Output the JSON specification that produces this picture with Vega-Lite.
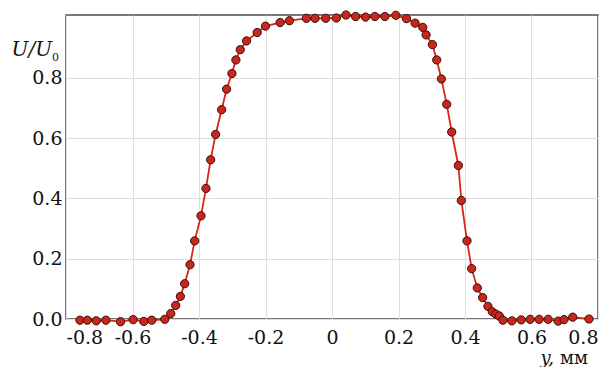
{
  "$schema": "https://vega.github.io/schema/vega-lite/v6.json",
  "width": 532,
  "height": 304,
  "autosize": "none",
  "padding": {"left": 66, "top": 15, "right": 14, "bottom": 48},
  "background": "white",
  "config": {
    "font": "DejaVu Serif",
    "text": {"font": "DejaVu Serif"},
    "view": {"stroke": "#4d4d4d", "strokeWidth": 1.5},
    "axis": {
      "grid": true,
      "gridColor": "#dedede",
      "gridWidth": 1,
      "domain": false,
      "ticks": false,
      "labelFont": "DejaVu Serif",
      "labelFontSize": 19,
      "labelColor": "#111111",
      "title": null
    }
  },
  "datasets": {
    "profile": [
      {"y": -0.758, "u": -0.004},
      {"y": -0.736, "u": -0.004},
      {"y": -0.709, "u": -0.006},
      {"y": -0.680, "u": -0.004},
      {"y": -0.636, "u": -0.009},
      {"y": -0.598, "u": -0.002},
      {"y": -0.566, "u": -0.008},
      {"y": -0.542, "u": -0.004},
      {"y": -0.503, "u": -0.001},
      {"y": -0.485, "u": 0.018},
      {"y": -0.470, "u": 0.045},
      {"y": -0.456, "u": 0.075},
      {"y": -0.443, "u": 0.117},
      {"y": -0.427, "u": 0.180},
      {"y": -0.413, "u": 0.259},
      {"y": -0.394, "u": 0.342},
      {"y": -0.379, "u": 0.433},
      {"y": -0.365, "u": 0.528},
      {"y": -0.350, "u": 0.612},
      {"y": -0.332, "u": 0.694},
      {"y": -0.317, "u": 0.762},
      {"y": -0.301, "u": 0.814},
      {"y": -0.289, "u": 0.859},
      {"y": -0.276, "u": 0.893},
      {"y": -0.257, "u": 0.922},
      {"y": -0.225, "u": 0.950},
      {"y": -0.200, "u": 0.971},
      {"y": -0.156, "u": 0.983},
      {"y": -0.128, "u": 0.989},
      {"y": -0.077, "u": 0.997},
      {"y": -0.051, "u": 0.997},
      {"y": -0.019, "u": 0.997},
      {"y": 0.013, "u": 0.998},
      {"y": 0.042, "u": 1.008},
      {"y": 0.071, "u": 1.003},
      {"y": 0.101, "u": 1.001},
      {"y": 0.129, "u": 1.003},
      {"y": 0.159, "u": 1.003},
      {"y": 0.192, "u": 1.007},
      {"y": 0.224, "u": 0.996},
      {"y": 0.250, "u": 0.981},
      {"y": 0.273, "u": 0.967},
      {"y": 0.283, "u": 0.942},
      {"y": 0.302, "u": 0.910},
      {"y": 0.315, "u": 0.859},
      {"y": 0.329, "u": 0.796},
      {"y": 0.345, "u": 0.712},
      {"y": 0.360, "u": 0.620},
      {"y": 0.380, "u": 0.509},
      {"y": 0.389, "u": 0.393},
      {"y": 0.406, "u": 0.259},
      {"y": 0.420, "u": 0.167},
      {"y": 0.437, "u": 0.103},
      {"y": 0.453, "u": 0.071},
      {"y": 0.469, "u": 0.042},
      {"y": 0.482, "u": 0.024},
      {"y": 0.493, "u": 0.016},
      {"y": 0.503, "u": 0.010},
      {"y": 0.514, "u": -0.004},
      {"y": 0.541, "u": -0.006},
      {"y": 0.569, "u": -0.003},
      {"y": 0.596, "u": -0.001},
      {"y": 0.623, "u": -0.001},
      {"y": 0.650, "u": -0.001},
      {"y": 0.680, "u": -0.007},
      {"y": 0.698, "u": -0.002},
      {"y": 0.724, "u": 0.006},
      {"y": 0.773, "u": 0.000}
    ],
    "labels": [
      {"t": "U/U", "px": -0.8, "pu": 0.873, "kind": "ytitle"},
      {"t": "0", "px": -0.8, "pu": 0.873, "kind": "ysub"},
      {"t": "мм", "px": 0.8, "pu": 0.0, "kind": "xunit"},
      {"t": "y,", "px": 0.8, "pu": 0.0, "kind": "xvar"}
    ]
  },
  "layer": [
    {
      "data": {"name": "profile"},
      "mark": {"type": "line", "color": "#d8261a", "strokeWidth": 1.8, "clip": false},
      "encoding": {
        "x": {
          "field": "y",
          "type": "quantitative",
          "scale": {"domain": [-0.8, 0.8], "nice": false},
          "axis": {
            "values": [-0.8, -0.6, -0.4, -0.2, 0, 0.2, 0.4, 0.6, 0.8],
            "labelPadding": 9,
            "labelExpr": "datum.value == 0 ? '0' : replace(format(datum.value, '.1f'), '\u2212', '-')"
          }
        },
        "y": {
          "field": "u",
          "type": "quantitative",
          "scale": {"domain": [0, 1.008], "nice": false, "zero": false},
          "axis": {"values": [0, 0.2, 0.4, 0.6, 0.8], "format": ".1f", "labelPadding": 4}
        }
      }
    },
    {
      "data": {"name": "profile"},
      "mark": {"type": "point", "shape": "circle", "filled": true, "size": 68, "fill": "#c8281b", "stroke": "#3d0b06", "strokeWidth": 1, "opacity": 1, "clip": false},
      "encoding": {
        "x": {"field": "y", "type": "quantitative"},
        "y": {"field": "u", "type": "quantitative"}
      }
    },
    {
      "data": {"name": "labels"},
      "transform": [{"filter": "datum.kind == 'ytitle'"}],
      "mark": {"type": "text", "fontStyle": "italic", "fontSize": 20, "align": "right", "baseline": "alphabetic", "dx": -14, "color": "#111111"},
      "encoding": {
        "x": {"field": "px", "type": "quantitative"},
        "y": {"field": "pu", "type": "quantitative"},
        "text": {"field": "t", "type": "nominal"}
      }
    },
    {
      "data": {"name": "labels"},
      "transform": [{"filter": "datum.kind == 'ysub'"}],
      "mark": {"type": "text", "fontSize": 11, "align": "right", "baseline": "alphabetic", "dx": -7, "dy": 5, "color": "#111111"},
      "encoding": {
        "x": {"field": "px", "type": "quantitative"},
        "y": {"field": "pu", "type": "quantitative"},
        "text": {"field": "t", "type": "nominal"}
      }
    },
    {
      "data": {"name": "labels"},
      "transform": [{"filter": "datum.kind == 'xunit'"}],
      "mark": {"type": "text", "fontSize": 18, "align": "right", "baseline": "alphabetic", "dx": -10, "dy": 45, "color": "#111111"},
      "encoding": {
        "x": {"field": "px", "type": "quantitative"},
        "y": {"field": "pu", "type": "quantitative"},
        "text": {"field": "t", "type": "nominal"}
      }
    },
    {
      "data": {"name": "labels"},
      "transform": [{"filter": "datum.kind == 'xvar'"}],
      "mark": {"type": "text", "fontStyle": "italic", "fontSize": 18, "align": "right", "baseline": "alphabetic", "dx": -44, "dy": 45, "color": "#111111"},
      "encoding": {
        "x": {"field": "px", "type": "quantitative"},
        "y": {"field": "pu", "type": "quantitative"},
        "text": {"field": "t", "type": "nominal"}
      }
    }
  ]
}
